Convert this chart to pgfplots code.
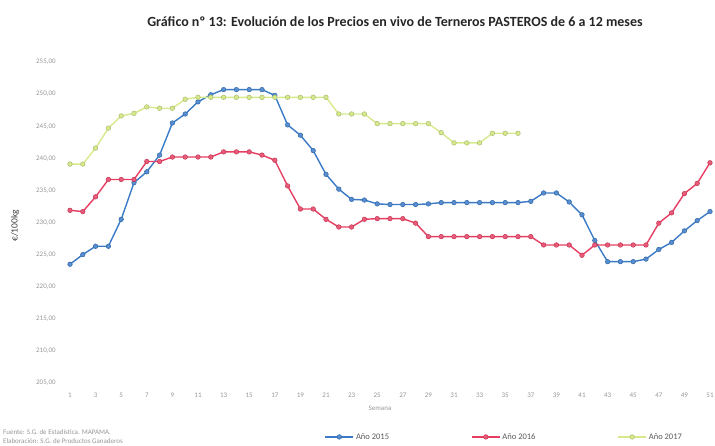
\documentclass[border=0pt]{standalone}
\usepackage{pgfplots}
\pgfplotsset{compat=1.18}
\usetikzlibrary{calc}
\usepackage{fontspec}
\setmainfont{Carlito}
\definecolor{c15}{RGB}{58,122,198}
\definecolor{c16}{RGB}{230,62,98}
\definecolor{c17}{RGB}{214,234,140}
\definecolor{ticktxt}{RGB}{150,150,150}

\pgfplotstableread{
w v
1 223.5
2 225.0
3 226.3
4 226.3
5 230.5
6 236.2
7 237.9
8 240.5
9 245.5
10 246.9
11 248.8
12 249.9
13 250.7
14 250.7
15 250.7
16 250.7
17 249.8
18 245.2
19 243.6
20 241.2
21 237.5
22 235.2
23 233.6
24 233.5
25 232.9
26 232.8
27 232.8
28 232.8
29 232.9
30 233.1
31 233.1
32 233.1
33 233.1
34 233.1
35 233.1
36 233.1
37 233.3
38 234.6
39 234.6
40 233.2
41 231.2
42 227.2
43 223.9
44 223.9
45 223.9
46 224.3
47 225.8
48 226.9
49 228.7
50 230.3
51 231.7
}\anioA

\pgfplotstableread{
w v
1 231.9
2 231.7
3 234.0
4 236.7
5 236.7
6 236.7
7 239.5
8 239.5
9 240.2
10 240.2
11 240.2
12 240.2
13 241.0
14 241.0
15 241.0
16 240.5
17 239.7
18 235.7
19 232.1
20 232.1
21 230.5
22 229.3
23 229.3
24 230.5
25 230.6
26 230.6
27 230.6
28 229.9
29 227.8
30 227.8
31 227.8
32 227.8
33 227.8
34 227.8
35 227.8
36 227.8
37 227.8
38 226.5
39 226.5
40 226.5
41 224.9
42 226.5
43 226.5
44 226.5
45 226.5
46 226.5
47 229.9
48 231.5
49 234.5
50 236.1
51 239.3
}\anioB

\pgfplotstableread{
w v
1 239.1
2 239.1
3 241.6
4 244.7
5 246.6
6 247.0
7 248.0
8 247.8
9 247.8
10 249.2
11 249.5
12 249.5
13 249.5
14 249.5
15 249.5
16 249.5
17 249.5
18 249.5
19 249.5
20 249.5
21 249.5
22 246.9
23 246.9
24 246.9
25 245.4
26 245.4
27 245.4
28 245.4
29 245.4
30 244.0
31 242.4
32 242.4
33 242.4
34 243.9
35 243.9
36 243.9
}\anioC

\begin{document}
\begin{tikzpicture}[x=1pt,y=1pt]
\begin{axis}[
    scale only axis,
    width=665.6pt, height=321pt,
    xmin=0, xmax=52,
    ymin=205, ymax=255,
    xtick={1,3,...,51},
    ytick={205,210,...,255},
    axis line style={draw=none},
    major tick length=0pt,
    tick label style={font=\fontsize{7}{8}\selectfont, text=ticktxt},
    xticklabel style={yshift=-6pt},
    yticklabel style={xshift=2pt, /pgf/number format/.cd, fixed, fixed zerofill, precision=2, use comma, 1000 sep={}},
    /pgf/number format/assume math mode=true,
    xlabel={Semana},
    xlabel style={font=\fontsize{7}{8}\selectfont, text=ticktxt, anchor=center, at={(axis description cs:0.485,-0.078)}},
    ylabel={€/100kg},
    ylabel style={font=\fontsize{9.5}{10}\selectfont, text=black!75, anchor=center, at={(axis description cs:-0.063,0.49)}},
    clip=false,
    legend columns=3,
    legend style={draw=none, fill=none, font=\fontsize{8.5}{9}\selectfont, text=black!65,
        at={(axis description cs:0.397,-0.168)}, anchor=west,
        /tikz/every even column/.append style={column sep=80pt}},
    legend image code/.code={
        \draw[#1, mark=none] (0pt,0pt) -- (28pt,0pt);
        \draw[#1, mark repeat=2, mark phase=2] plot coordinates {(0pt,0pt) (14pt,0pt) (28pt,0pt)};
    },
]
\coordinate (O) at (rel axis cs:0,0);
\addplot[c15, line width=1.4pt, mark=*, mark size=2.3pt, mark options={fill=c15!85!white, draw=c15!85!black, line width=0.5pt}] table[x=w, y=v] {\anioA};
\addlegendentry{Año 2015}
\addplot[c16, line width=1.4pt, mark=*, mark size=2.3pt, mark options={fill=c16!85!white, draw=c16!85!black, line width=0.5pt}] table[x=w, y=v] {\anioB};
\addlegendentry{Año 2016}
\addplot[c17, line width=1.4pt, mark=*, mark size=2.3pt, mark options={fill=c17, draw=c17!80!black, line width=0.5pt}] table[x=w, y=v] {\anioC};
\addlegendentry{Año 2017}
\end{axis}
\node[font=\bfseries\fontsize{14}{16}\selectfont, text=black!85] at ($(O)+(337.8,361)$) {Gráfico nº 13: Evolución de los Precios en vivo de Terneros PASTEROS de 6 a 12 meses};
\node[anchor=north west, align=left, font=\fontsize{7}{9}\selectfont, text=ticktxt, inner sep=0pt] at ($(O)+(-54.2,-46)$) {Fuente: S.G. de Estadística. MAPAMA.\\Elaboración: S.G. de Productos Ganaderos};
\pgfresetboundingbox
\useasboundingbox ($(O)+(-57.2,-62)$) rectangle ++(715,445);
\end{tikzpicture}
\end{document}
